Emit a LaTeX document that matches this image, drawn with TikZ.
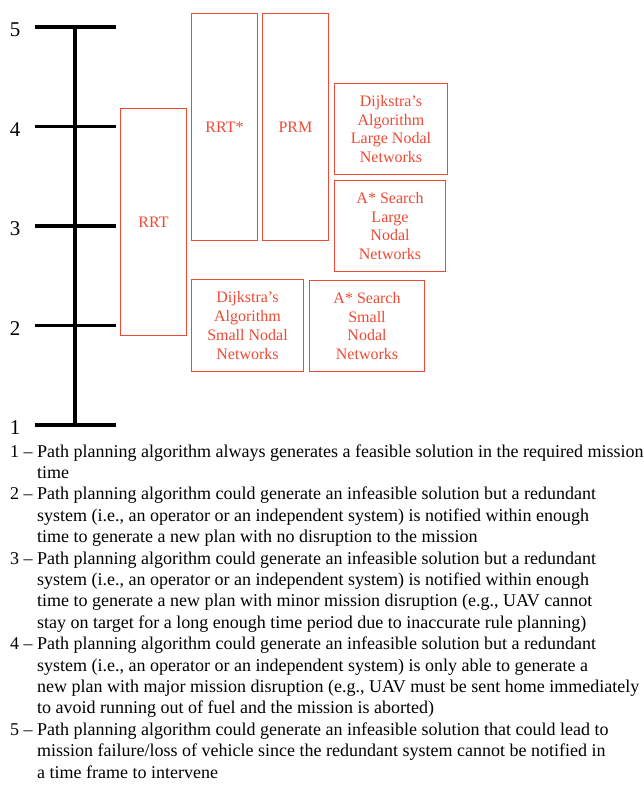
\documentclass[tikz,border=0pt]{standalone}
\usepackage{fontspec}
\setmainfont{Liberation Serif}
\usepackage{tikz}
\usepackage{xcolor}
\definecolor{boxred}{RGB}{236,74,52}

\begin{document}
\begin{tikzpicture}[x=1pt,y=-1pt,
  algbox/.style={draw=boxred,line width=1.6pt,text=boxred,align=center,inner sep=0pt,
    font=\fontsize{16}{18.7}\selectfont},
  axisline/.style={line width=3.6pt},
  scalelabel/.style={font=\fontsize{21}{25}\selectfont},
  desc/.style={anchor=base west,inner sep=0pt,font=\fontsize{18}{21.4}\selectfont}]
\useasboundingbox (0,0) rectangle (644,785);
% scale
\draw[axisline] (75,27) -- (75,425);
\foreach \lvl/\yy in {5/27,4/126.5,3/226,2/325.5,1/425}{
  \draw[axisline] (35,\yy) -- (116,\yy);
  \node[scalelabel] (lvl\lvl) at (15,\yy+3) {\lvl};
}
% algorithms
\node[algbox,minimum width=66,minimum height=227] (rrt) at (153.5,222) {RRT};
\node[algbox,minimum width=66,minimum height=227] (rrtstar) at (224.5,127) {RRT*};
\node[algbox,minimum width=66,minimum height=227] (prm) at (295.5,127) {PRM};
\node[algbox,minimum width=112,minimum height=92] (dijksmall) at (247.5,325.5) {Dijkstra’s\\Algorithm\\Small Nodal\\Networks};
\node[algbox,minimum width=115,minimum height=91] (astarsmall) at (367,326) {A* Search\\Small\\Nodal\\Networks};
\node[algbox,minimum width=113,minimum height=91] (dijklarge) at (391,129) {Dijkstra’s\\Algorithm\\Large Nodal\\Networks};
\node[algbox,minimum width=111,minimum height=91] (astarlarge) at (390,226) {A* Search\\Large\\Nodal\\Networks};
% level descriptions
\node[desc] (desc1) at (10,457) {\begin{tabular}[t]{@{}l@{\ }l@{}}
1 -- & Path planning algorithm always generates a feasible solution in the required mission\\
& time\end{tabular}};
\node[desc] (desc2) at (10,499.8) {\begin{tabular}[t]{@{}l@{\ }l@{}}
2 -- & Path planning algorithm could generate an infeasible solution but a redundant\\
& system (i.e., an operator or an independent system) is notified within enough\\
& time to generate a new plan with no disruption to the mission\end{tabular}};
\node[desc] (desc3) at (10,564) {\begin{tabular}[t]{@{}l@{\ }l@{}}
3 -- & Path planning algorithm could generate an infeasible solution but a redundant\\
& system (i.e., an operator or an independent system) is notified within enough\\
& time to generate a new plan with minor mission disruption (e.g., UAV cannot\\
& stay on target for a long enough time period due to inaccurate rule planning)\end{tabular}};
\node[desc] (desc4) at (10,649.6) {\begin{tabular}[t]{@{}l@{\ }l@{}}
4 -- & Path planning algorithm could generate an infeasible solution but a redundant\\
& system (i.e., an operator or an independent system) is only able to generate a\\
& new plan with major mission disruption (e.g., UAV must be sent home immediately\\
& to avoid running out of fuel and the mission is aborted)\end{tabular}};
\node[desc] (desc5) at (10,735.2) {\begin{tabular}[t]{@{}l@{\ }l@{}}
5 -- & Path planning algorithm could generate an infeasible solution that could lead to\\
& mission failure/loss of vehicle since the redundant system cannot be notified in\\
& a time frame to intervene\end{tabular}};
\end{tikzpicture}
\end{document}
